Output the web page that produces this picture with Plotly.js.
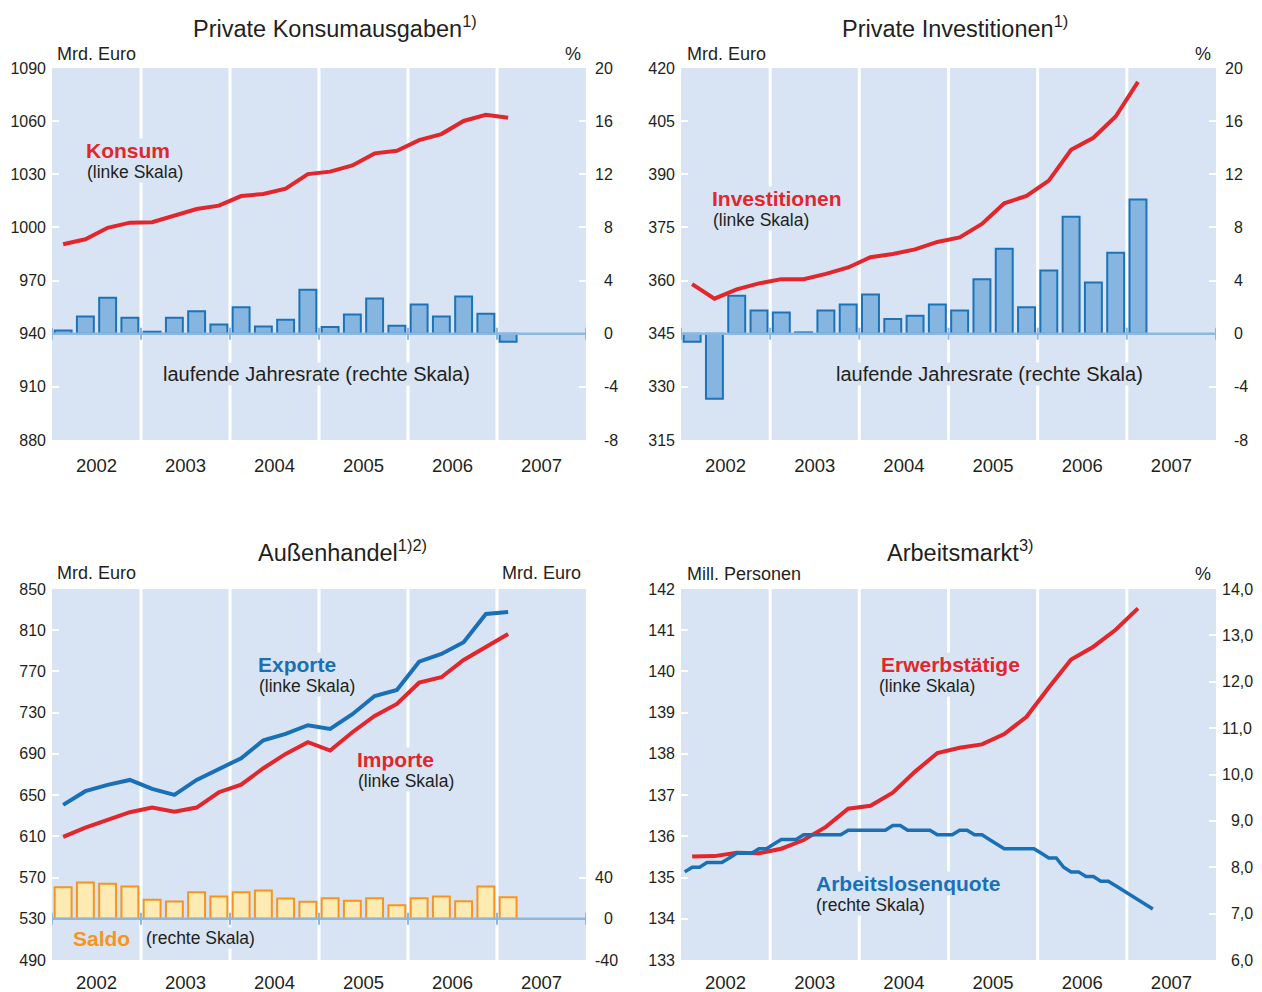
<!DOCTYPE html>
<html>
<head>
<meta charset="utf-8">
<script src="https://cdn.plot.ly/plotly-3.0.1.min.js"></script>
<style>
  html, body { margin: 0; padding: 0; background: #ffffff; }
  #chart { width: 1262px; height: 992px; }
</style>
</head>
<body>
<div id="chart"></div>
<script>
// ---------------- DATA ----------------
// Quarterly series: 2002 Q1 ... 2007 Q1
const quarterStart = 2002;
const years = ['2002', '2003', '2004', '2005', '2006', '2007'];

// Private Konsumausgaben (Mrd. Euro, linke Skala) and laufende Jahresrate (%)
const konsum = [990.5, 993.3, 999.8, 1002.7, 1002.9, 1006.6, 1010.4, 1012.3,
                1017.7, 1018.9, 1021.9, 1030.1, 1031.5, 1035.0, 1041.8, 1043.3,
                1049.3, 1052.7, 1060.1, 1063.6, 1061.9];
const konsumRate = [0.25, 1.3, 2.7, 1.2, 0.15, 1.2, 1.7, 0.7,
                    2.0, 0.55, 1.05, 3.3, 0.5, 1.45, 2.65, 0.6,
                    2.2, 1.3, 2.8, 1.5, -0.6];

// Private Investitionen
const invest = [359.0, 354.9, 357.5, 359.2, 360.4, 360.4, 361.9, 363.7,
                366.6, 367.5, 368.8, 370.9, 372.2, 376.0, 381.8, 383.9,
                388.2, 396.9, 400.3, 406.3, 416.1];
const investRate = [-0.6, -4.9, 2.85, 1.75, 1.6, 0.1, 1.75, 2.2,
                    2.95, 1.1, 1.35, 2.2, 1.75, 4.1, 6.4, 2.0,
                    4.75, 8.8, 3.85, 6.1, 10.1];

// Außenhandel
const exporte = [640.5, 653.8, 659.9, 664.7, 656.0, 650.2, 664.7, 675.1,
                 685.8, 703.2, 709.4, 717.8, 714.2, 728.5, 746.2, 752.0,
                 779.5, 787.0, 798.3, 825.8, 827.7];
const importe = [609.5, 618.5, 626.0, 633.4, 637.9, 634.0, 637.9, 652.8,
                 660.2, 676.1, 690.0, 701.3, 693.2, 711.0, 726.8, 738.5,
                 759.1, 764.4, 781.1, 794.0, 806.4];
const saldo = [30.7, 35.2, 34.0, 31.3, 18.4, 16.8, 25.8, 21.6,
               25.8, 27.5, 19.7, 16.5, 20.0, 17.5, 20.0, 13.2,
               20.0, 21.6, 17.1, 31.3, 21.0];

// Arbeitsmarkt
const erwerbstaetige = [135.51, 135.52, 135.60, 135.59, 135.70, 135.91, 136.23, 136.67,
                        136.74, 137.06, 137.57, 138.02, 138.15, 138.23, 138.48, 138.90,
                        139.61, 140.29, 140.60, 141.01, 141.53];
// monthly, Jan 2002 ... Apr 2007
const arbeitslosenquote = [7.9, 8.0, 8.0, 8.1, 8.1, 8.1, 8.2, 8.3, 8.3, 8.3, 8.4, 8.4,
                           8.5, 8.6, 8.6, 8.6, 8.7, 8.7, 8.7, 8.7, 8.7, 8.7, 8.8, 8.8,
                           8.8, 8.8, 8.8, 8.8, 8.9, 8.9, 8.8, 8.8, 8.8, 8.8, 8.7, 8.7,
                           8.7, 8.8, 8.8, 8.7, 8.7, 8.6, 8.5, 8.4, 8.4, 8.4, 8.4, 8.4,
                           8.3, 8.2, 8.2, 8.0, 7.9, 7.9, 7.8, 7.8, 7.7, 7.7, 7.6, 7.5,
                           7.4, 7.3, 7.2, 7.1];

// Axis ticks
const rateTicks = [-8, -4, 0, 4, 8, 12, 16, 20];
const saldoTicks = [-40, 0, 40];
const quoteTicks = [6, 7, 8, 9, 10, 11, 12, 13, 14];

// ---------------- HELPERS ----------------
const W = 1262, H = 992;
const qx = arr => arr.map((_, i) => quarterStart + (i + 0.5) / 4);
const mx = arr => arr.map((_, i) => quarterStart + (i + 0.5) / 12);
const px = x => x / W;
const py = y => 1 - y / H;
const FIG = '\u2007';
function padLabels(vals, fmt) {
  const txt = vals.map(fmt);
  const digits = s => s.replace(/[^0-9]/g, '').length;
  const maxD = Math.max(...txt.map(digits));
  return txt.map(s => FIG.repeat(maxD - digits(s)) + s);
}

const FONT = 'Liberation Sans, Arial, Helvetica, sans-serif';
const TXT = '#231f20';
const BG = '#d8e4f4';
const RED = '#e3262c';
const BLUE = '#1a70b7';
const BARFILL = '#86b5e0';
const BARLINE = '#1b73ba';
const BASE = '#8bb8e2';
const ORANGE = '#f7941e';
const SALDOFILL = '#fdebb3';

const xDomL = [52 / W, 586 / W], xDomR = [681 / W, 1216 / W];
const yDomT = [1 - 440 / H, 1 - 68 / H], yDomB = [1 - 960 / H, 1 - 589 / H];

const yearVals = years.map((_, i) => quarterStart + i + 0.5);

function xAxis(domain, anchor, standoff) {
  return {
    domain, anchor, range: [2002, 2008],
    tickvals: yearVals, ticktext: years,
    showgrid: false, zeroline: false, showline: false, ticks: '',
    tickfont: { family: FONT, size: 18.5, color: TXT },
    ticklabelstandoff: standoff, fixedrange: true
  };
}
function yAxis(domain, anchor, side, extra) {
  return Object.assign({
    domain, anchor, side,
    showgrid: false, zeroline: false, showline: false,
    ticks: 'inside', ticklen: 7, tickwidth: 2, tickcolor: '#ffffff',
    tickfont: { family: FONT, size: 16, color: TXT },
    ticklabelstandoff: side === 'left' ? 5 : 8,
    fixedrange: true
  }, extra);
}

// ---------------- TRACES ----------------
const barStyle = { color: BARFILL, line: { color: BARLINE, width: 2 } };
const traces = [
  // Panel 1
  { type: 'bar', x: qx(konsumRate), y: konsumRate, xaxis: 'x', yaxis: 'y', width: 0.19, marker: barStyle },
  { type: 'scatter', mode: 'lines', x: qx(konsum), y: konsum, xaxis: 'x', yaxis: 'y2', line: { color: RED, width: 4 } },
  // Panel 2
  { type: 'bar', x: qx(investRate), y: investRate, xaxis: 'x2', yaxis: 'y3', width: 0.19, marker: barStyle },
  { type: 'scatter', mode: 'lines', x: qx(invest), y: invest, xaxis: 'x2', yaxis: 'y4', line: { color: RED, width: 4 } },
  // Panel 3
  { type: 'bar', x: qx(saldo), y: saldo, xaxis: 'x3', yaxis: 'y5', width: 0.19,
    marker: { color: SALDOFILL, line: { color: ORANGE, width: 2 } } },
  { type: 'scatter', mode: 'lines', x: qx(importe), y: importe, xaxis: 'x3', yaxis: 'y6', line: { color: RED, width: 4 } },
  { type: 'scatter', mode: 'lines', x: qx(exporte), y: exporte, xaxis: 'x3', yaxis: 'y6', line: { color: BLUE, width: 4 } },
  // Panel 4
  { type: 'scatter', mode: 'lines', x: qx(erwerbstaetige), y: erwerbstaetige, xaxis: 'x4', yaxis: 'y7', line: { color: RED, width: 4 } },
  { type: 'scatter', mode: 'lines', x: mx(arbeitslosenquote), y: arbeitslosenquote, xaxis: 'x4', yaxis: 'y8', line: { color: BLUE, width: 3.5 } }
];

// ---------------- SHAPES ----------------
const shapes = [];
[['x', 'y'], ['x2', 'y3'], ['x3', 'y5'], ['x4', 'y7']].forEach(([xr, yr]) => {
  for (let k = 2003; k <= 2007; k++) {
    shapes.push({ type: 'line', layer: 'below', xref: xr, yref: yr + ' domain',
      x0: k, x1: k, y0: 0, y1: 1, line: { color: '#ffffff', width: 3 } });
  }
});
[['x', 'y'], ['x2', 'y3'], ['x3', 'y5']].forEach(([xr, yr]) => {
  shapes.push({ type: 'line', layer: 'above', xref: xr, yref: yr,
    x0: 2002, x1: 2008, y0: 0, y1: 0, line: { color: BASE, width: 2.5 } });
  for (let k = 2002; k <= 2008; k++) {
    shapes.push({ type: 'line', layer: 'above', xref: xr, yref: yr,
      ysizemode: 'pixel', yanchor: 0, x0: k, x1: k, y0: -6, y1: 6,
      line: { color: BASE, width: 2 } });
  }
});

// ---------------- ANNOTATIONS ----------------
function ann(text, x, y, size, opts) {
  return Object.assign({
    text, xref: 'paper', yref: 'paper', x: px(x), y: py(y),
    xanchor: 'left', yanchor: 'middle', showarrow: false,
    font: { family: FONT, size, color: TXT }, borderpad: 0
  }, opts || {});
}
const annotations = [
  // titles
  ann('Private Konsumausgaben<sup>1)</sup>', 192, 27, 23.5),
  ann('Private Investitionen<sup>1)</sup>', 841, 27, 23.5),
  ann('Außenhandel<sup>1)2)</sup>', 257, 551, 23.5),
  ann('Arbeitsmarkt<sup>3)</sup>', 886, 551, 23.5),
  // axis units
  ann('Mrd. Euro', 56, 54, 18),
  ann('%', 582, 54, 18, { xanchor: 'right' }),
  ann('Mrd. Euro', 686, 54, 18),
  ann('%', 1212, 54, 18, { xanchor: 'right' }),
  ann('Mrd. Euro', 56, 573, 18),
  ann('Mrd. Euro', 582, 573, 18, { xanchor: 'right' }),
  ann('Mill. Personen', 686, 574, 18),
  ann('%', 1212, 574, 18, { xanchor: 'right' }),
  // series labels
  ann('<b>Konsum</b>', 85, 150, 21, { font: { family: FONT, size: 21, color: RED }, bgcolor: BG }),
  ann('(linke Skala)', 86, 172, 17.5, { bgcolor: BG }),
  ann('laufende Jahresrate (rechte Skala)', 316, 374, 20, { xanchor: 'center', bgcolor: BG }),
  ann('<b>Investitionen</b>', 711, 198, 21, { font: { family: FONT, size: 21, color: RED }, bgcolor: BG }),
  ann('(linke Skala)', 712, 220, 17.5, { bgcolor: BG }),
  ann('laufende Jahresrate (rechte Skala)', 989, 374, 20, { xanchor: 'center', bgcolor: BG }),
  ann('<b>Exporte</b>', 257, 664, 21, { font: { family: FONT, size: 21, color: BLUE }, bgcolor: BG }),
  ann('(linke Skala)', 258, 686, 17.5, { bgcolor: BG }),
  ann('<b>Importe</b>', 356, 759, 21, { font: { family: FONT, size: 21, color: RED }, bgcolor: BG }),
  ann('(linke Skala)', 357, 781, 17.5, { bgcolor: BG }),
  ann('<b>Saldo</b>', 72, 938, 21, { font: { family: FONT, size: 21, color: ORANGE }, bgcolor: BG }),
  ann('(rechte Skala)', 145, 938, 17.5, { bgcolor: BG }),
  ann('<b>Erwerbstätige</b>', 880, 664, 21, { font: { family: FONT, size: 21, color: RED }, bgcolor: BG }),
  ann('(linke Skala)', 878, 686, 17.5, { bgcolor: BG }),
  ann('<b>Arbeitslosenquote</b>', 815, 883, 21, { font: { family: FONT, size: 21, color: BLUE }, bgcolor: BG }),
  ann('(rechte Skala)', 815, 905, 17.5, { bgcolor: BG })
];

// ---------------- LAYOUT ----------------
const rateText = padLabels(rateTicks, v => String(v));
const layout = {
  width: W, height: H, autosize: false,
  margin: { l: 0, r: 0, t: 0, b: 0 },
  paper_bgcolor: '#ffffff', plot_bgcolor: BG,
  showlegend: false, separators: ',.',
  font: { family: FONT, color: TXT },
  bargap: 0,
  xaxis: xAxis(xDomL, 'y', 12),
  xaxis2: xAxis(xDomR, 'y3', 12),
  xaxis3: xAxis(xDomL, 'y5', 9),
  xaxis4: xAxis(xDomR, 'y7', 9),
  // Panel 1
  yaxis: yAxis(yDomT, 'x', 'right', { range: [-8, 20], tickvals: rateTicks, ticktext: rateText }),
  yaxis2: yAxis(yDomT, 'x', 'left', { overlaying: 'y', range: [880, 1090], dtick: 30, tick0: 880 }),
  // Panel 2
  yaxis3: yAxis(yDomT, 'x2', 'right', { range: [-8, 20], tickvals: rateTicks, ticktext: rateText }),
  yaxis4: yAxis(yDomT, 'x2', 'left', { overlaying: 'y3', range: [315, 420], dtick: 15, tick0: 315 }),
  // Panel 3
  yaxis5: yAxis(yDomB, 'x3', 'right', { range: [-40, 320], tickvals: saldoTicks, ticktext: padLabels(saldoTicks, v => String(v)) }),
  yaxis6: yAxis(yDomB, 'x3', 'left', { overlaying: 'y5', range: [490, 850], dtick: 40, tick0: 490 }),
  // Panel 4
  yaxis7: yAxis(yDomB, 'x4', 'left', { range: [133, 142], dtick: 1, tick0: 133 }),
  yaxis8: yAxis(yDomB, 'x4', 'right', { overlaying: 'y7', range: [6, 14], tickvals: quoteTicks,
    ticktext: padLabels(quoteTicks, v => v.toFixed(1).replace('.', ',')), ticklabelstandoff: 5 }),
  shapes, annotations
};

Plotly.newPlot('chart', traces, layout, { displayModeBar: false, staticPlot: true });
</script>
</body>
</html>
